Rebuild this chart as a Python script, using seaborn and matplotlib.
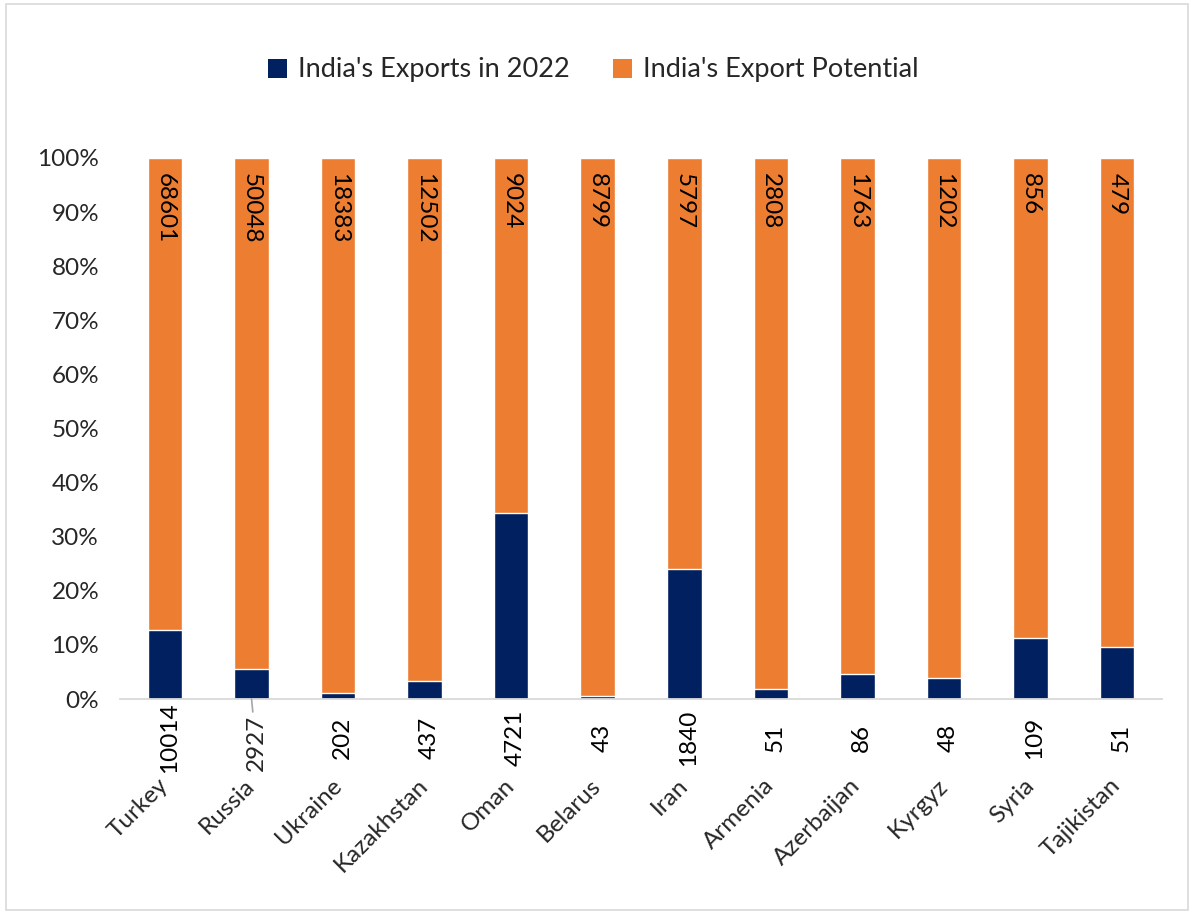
import matplotlib
matplotlib.use("Agg")
import matplotlib.pyplot as plt
import seaborn as sns
import pandas as pd
from matplotlib.patches import Rectangle, Patch

countries = ["Turkey", "Russia", "Ukraine", "Kazakhstan", "Oman", "Belarus",
             "Iran", "Armenia", "Azerbaijan", "Kyrgyz", "Syria", "Tajikistan"]
exports_2022 = [10014, 2927, 202, 437, 4721, 43, 1840, 51, 86, 48, 109, 51]
export_potential = [68601, 50048, 18383, 12502, 9024, 8799, 5797, 2808, 1763, 1202, 856, 479]

navy = "#002060"
orange = "#ED7D31"

df = pd.DataFrame({"country": countries, "exports": exports_2022, "potential": export_potential})
df["total"] = df["exports"] + df["potential"]
df["exp_pct"] = df["exports"] / df["total"] * 100
df["full_pct"] = 100.0

sns.set_theme(style="white")
plt.rcParams["font.family"] = ["Lato", "DejaVu Sans"]

FS = 17.5

fig = plt.figure(figsize=(11.94, 9.14), dpi=100)
ax = fig.add_axes([120 / 1194, 1 - 699 / 914, 1042 / 1194, (699 - 158) / 914])

sns.barplot(data=df, x="country", y="full_pct", color=orange, saturation=1,
            width=0.40, ax=ax, order=countries)
sns.barplot(data=df, x="country", y="exp_pct", color=navy, saturation=1,
            width=0.40, ax=ax, order=countries)

ax.set_ylim(0, 100)
ax.set_xlim(-0.52, 11.52)
ax.set_yticks(range(0, 101, 10))
ax.set_yticklabels([f"{v}%" for v in range(0, 101, 10)])
ax.set_xticks(range(len(countries)))
ax.set_xticklabels(countries, rotation=45, ha="right", va="center", rotation_mode="anchor")
ax.tick_params(axis="y", length=0, pad=15, labelsize=FS)
ax.tick_params(axis="x", length=0, pad=60, labelsize=FS)
ax.set_xlabel("")
ax.set_ylabel("")
for s in ["left", "right", "top"]:
    ax.spines[s].set_visible(False)
ax.spines["bottom"].set_color("#D9D9D9")
ax.spines["bottom"].set_linewidth(1.3)
ax.grid(False)

for i, (e, p) in enumerate(zip(exports_2022, export_potential)):
    ax.text(i, 97.3, f"{p}", rotation=270, ha="center", va="top", fontsize=FS, color="black")
    if countries[i] == "Russia":
        ax.annotate(f"{e}", xy=(i, 0), xytext=(i + 0.05, -8.2), textcoords="data",
                    rotation=90, ha="center", va="center", fontsize=FS,
                    annotation_clip=False,
                    arrowprops=dict(arrowstyle="-", color="#A6A6A6", lw=1.2,
                                    shrinkA=14, shrinkB=0))
    else:
        ax.text(i + 0.05, -7.2, f"{e}", rotation=90, ha="center", va="center",
                fontsize=FS, color="black", clip_on=False)

handles = [Patch(facecolor=navy, edgecolor="none"), Patch(facecolor=orange, edgecolor="none")]
fig.legend(handles, ["India's Exports in 2022", "India's Export Potential"],
           loc="center", bbox_to_anchor=(0.497, 1 - 70 / 914), ncol=2, frameon=False,
           fontsize=19.5, handlelength=0.7, handleheight=0.7, handletextpad=0.4,
           columnspacing=1.6)

fig.patches.append(Rectangle((0.005, 0.004), 0.99, 0.992, transform=fig.transFigure,
                             fill=False, edgecolor="#D9D9D9", linewidth=1.2))

fig.savefig("out.png", dpi=100, facecolor="white")
